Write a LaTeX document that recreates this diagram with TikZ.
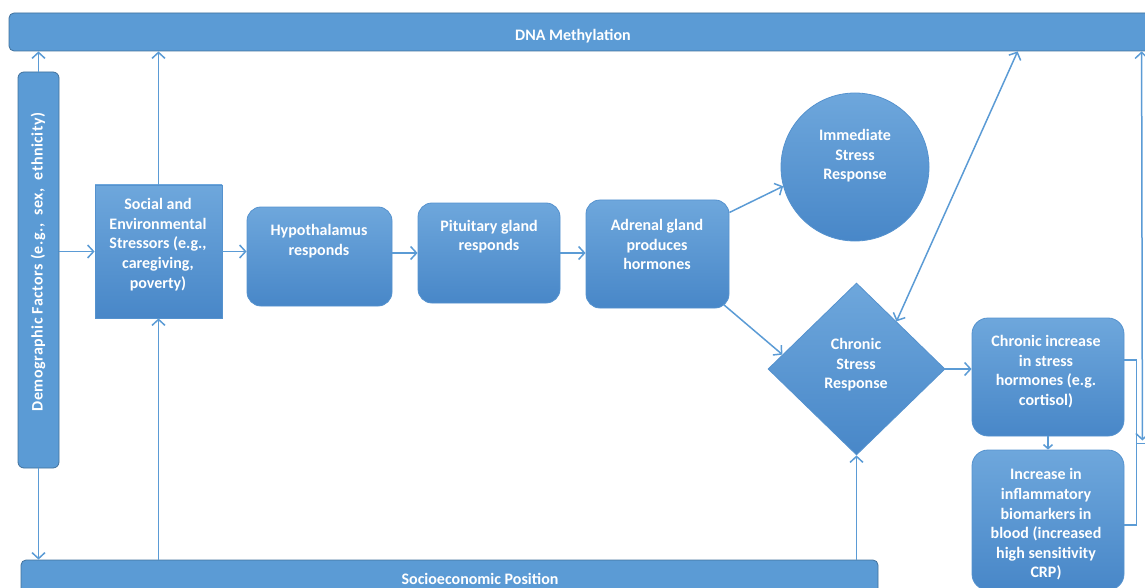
\documentclass[tikz,border=0pt]{standalone}
\usepackage{fontspec}
\setmainfont{Carlito}
\usetikzlibrary{arrows.meta,shapes.geometric,calc}
\definecolor{bluetop}{HTML}{6EA7DC}
\definecolor{bluebot}{HTML}{4887C8}
\definecolor{blueedge}{HTML}{5592CE}
\definecolor{barfill}{HTML}{5B9BD5}
\definecolor{baredge}{HTML}{41719C}
\definecolor{linec}{HTML}{5B9BD5}
\tikzset{
  box/.style={draw=blueedge, line width=0.8pt, top color=bluetop, bottom color=bluebot, inner sep=0pt},
  rbox/.style={box, rounded corners=14pt},
  bar/.style={draw=baredge, fill=barfill, line width=0.8pt, rounded corners=5pt, inner sep=0pt},
  lbl/.style={text=white, font=\fontsize{16}{19.6}\selectfont\bfseries, align=center, inner sep=0pt},
  link/.style={draw=linec, line width=1.5pt},
  conn/.style={link, -{Straight Barb[length=6pt,width=13pt]}},
  dconn/.style={link, {Straight Barb[length=6pt,width=13pt]}-{Straight Barb[length=6pt,width=13pt]}},
  sconn/.style={link, -{Straight Barb[length=4pt,width=9pt]}}
}
\begin{document}
\begin{tikzpicture}[x=1pt,y=-1pt]
\useasboundingbox (0,0) rectangle (1145,588);
\clip (0,0) rectangle (1145,588);
% bars
\node[bar, minimum width=1160pt, minimum height=38pt] (dna) at (589,32) {};
\node[lbl] (dnat) at (573,36) {DNA Methylation};
\node[bar, minimum width=857pt, minimum height=50pt] (ses) at (449.5,585) {};
\node[lbl] (sest) at (480,579) {Socioeconomic Position};
\node[bar, rounded corners=6pt, minimum width=41pt, minimum height=396pt] (dem) at (38.5,270) {};
\node[lbl, rotate=90] (demt) at (38,262) {\addfontfeature{LetterSpace=3}Demographic Factors (e.g.,\ \ sex,\ \ ethnicity)};
% boxes
\node[box, minimum width=127pt, minimum height=133pt] (soc) at (158.5,251.5) {};
\node[lbl] (soct) at (158,244.5) {Social and\\Environmental\\Stressors (e.g.,\\caregiving,\\poverty)};
\node[rbox, minimum width=145pt, minimum height=99pt] (hyp) at (319.5,256.5) {};
\node[lbl] (hypt) at (319,241) {Hypothalamus\\responds};
\node[rbox, minimum width=142pt, minimum height=100pt] (pit) at (489,253) {};
\node[lbl] (pitt) at (489,236.5) {Pituitary gland\\responds};
\node[rbox, minimum width=143pt, minimum height=108pt] (adr) at (657.5,254) {};
\node[lbl] (adrt) at (657,244.5) {Adrenal gland\\produces\\hormones};
\node[box, circle, minimum size=148pt] (imm) at (855,167) {};
\node[lbl] (immt) at (855,156) {Immediate\\Stress\\Response};
\node[box, diamond, minimum width=177pt, minimum height=172pt] (chr) at (856.5,369) {};
\node[lbl] (chrt) at (856,365) {Chronic\\Stress\\Response};
\node[rbox, rounded corners=16pt, minimum width=152pt, minimum height=118pt] (ci) at (1048,377) {};
\node[lbl] (cit) at (1046,371.5) {Chronic increase\\in stress\\hormones (e.g.\\cortisol)};
\node[rbox, rounded corners=16pt, minimum width=152pt, minimum height=140pt] (inf) at (1048,520) {};
\node[lbl] (inft) at (1046,524.5) {Increase in\\inflammatory\\biomarkers in\\blood (increased\\high sensitivity\\CRP)};
% connectors
\draw[conn] (dem.north) -- (dem.north |- dna.south);
\draw[conn] (dem.south) -- (dem.south |- ses.north);
\draw[conn] (soc.west -| dem.east) -- (soc.west);
\draw[conn] (soc.north) -- (soc.north |- dna.south);
\draw[conn] (soc.south |- ses.north) -- (soc.south);
\draw[conn] (soc.east) -- (soc.east -| hyp.west);
\draw[conn] (pit.west -| hyp.east) -- (pit.west);
\draw[conn] (pit.east) -- (pit.east -| adr.west);
\draw[conn] (adr.30) -- (imm.195);
\draw[conn] ($(adr.south east)+(-6,-4)$) -- (chr.169);
\draw[dconn] (chr.50) -- ($(dna.south west)+(1009,0)$);
\draw[conn] (chr.south |- ses.north) -- (chr.south);
\draw[conn] (chr.east) -- (chr.east -| ci.west);
\draw[sconn] (ci.south) -- (inf.north);
\draw[link] ($(ci.east)+(0,-17)$) -- ++(12,0) |- ($(inf.east)+(0,5)$);
\coordinate (brk) at ($(ci.east)!0.5!(inf.east)+(12,-5)$);
\draw[link] (brk) -- ++(12,0);
\draw[dconn] ($(brk)+(6,-3)$) -- ($(dna.south west)+(1133,0)$);
\end{tikzpicture}
\end{document}
